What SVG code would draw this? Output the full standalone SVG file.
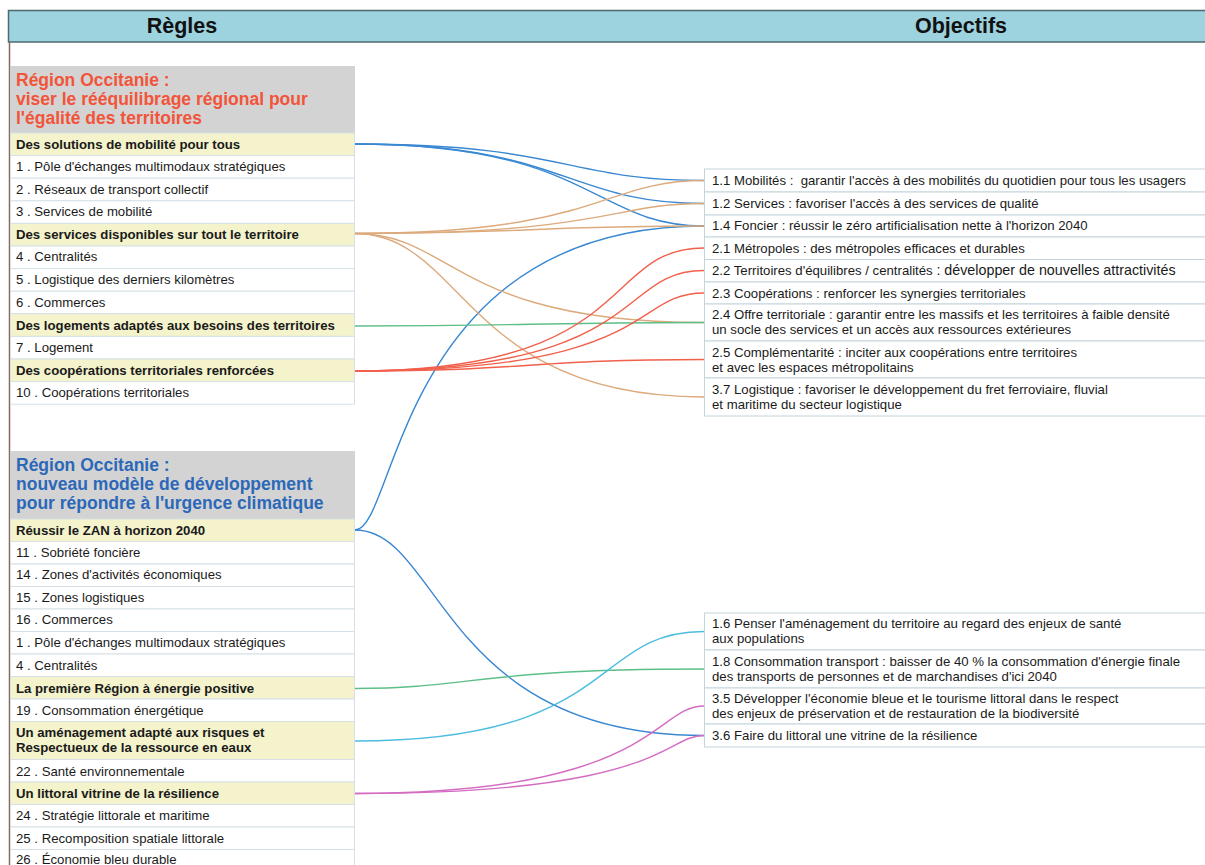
<svg xmlns="http://www.w3.org/2000/svg" width="1205" height="865" viewBox="0 0 1205 865">
<style>
text{font-family:"Liberation Sans",Arial,sans-serif;fill:#1a1a1a}
.hd{font-size:21.5px;font-weight:bold;text-anchor:middle;fill:#111}
.t1{font-size:17.5px;font-weight:bold;fill:#f2543a}
.t2{font-size:17.5px;font-weight:bold;fill:#2c68b8}
.it{font-size:13.2px}
.b{font-size:13.2px;font-weight:bold}
.gray{fill:#d3d3d3}
.hi{fill:#f4f3cc;stroke:#d6e0e6;stroke-width:1}
.row{fill:#ffffff;stroke:#d6e0e6;stroke-width:1}
.rr{fill:#ffffff;stroke:#c3d4dc;stroke-width:1}
.c{fill:none;stroke-width:1.4}
.bl{stroke:#3a88d2}
.or{stroke:#dcaa7c}
.rd{stroke:#f1604b}
.gr{stroke:#5cbf88}
.cy{stroke:#4cbde0}
.mg{stroke:#d46cc2}
</style>
<rect width="1205" height="865" fill="#ffffff"/>
<g id="header">
<rect x="8.5" y="10.5" width="1200" height="31.5" fill="#9dd2df" stroke="#4d6a70" stroke-width="1.5"/>
<line x1="9.5" y1="42" x2="9.5" y2="865" stroke="#8a6a5a" stroke-width="1.5"/>
<text class="hd" x="182" y="33">Règles</text>
<text class="hd" x="961" y="33">Objectifs</text>
</g>
<g id="connectors">
<path class="c bl" d="M355,144 C566,144 566,180.5 704,180.5"/>
<path class="c bl" d="M355,144 C566,144 566,203.5 704,203.5"/>
<path class="c bl" d="M355,144 C593,144 593,226 704,226"/>
<path class="c bl" d="M355,530 C397,530 397,226 704,226"/>
<path class="c bl" d="M355,530 C441,530 441,735.5 704,735.5"/>
<path class="c or" d="M355,233.5 C601,233.5 601,180.5 704,180.5"/>
<path class="c or" d="M355,233.5 C610,233.5 610,203.5 704,203.5"/>
<path class="c or" d="M355,233.5 C530,233.5 530,226 704,226"/>
<path class="c or" d="M355,233.5 C454,233.5 454,322.5 704,322.5"/>
<path class="c or" d="M355,233.5 C464,233.5 464,397 704,397"/>
<path class="c gr" d="M355,326 C530,326 530,322.5 704,322.5"/>
<path class="c rd" d="M355,371 C640,371 600,248 704,248"/>
<path class="c rd" d="M355,371 C650,371 615,270.5 704,270.5"/>
<path class="c rd" d="M355,371 C660,371 630,293 704,293"/>
<path class="c rd" d="M355,371 C530,371 530,359.5 704,359.5"/>
<path class="c gr" d="M355,688.5 C473,688.5 473,669 704,669"/>
<path class="c cy" d="M355,741 C620,741 590,631.5 704,631.5"/>
<path class="c mg" d="M355,793.5 C654,793.5 654,706 704,706"/>
<path class="c mg" d="M355,793.5 C664,793.5 664,735.5 704,735.5"/>
</g>
<g id="region1">
<rect class="gray" x="10" y="66" width="345" height="67"/>
<text class="t1" x="16" y="86">Région Occitanie :</text>
<text class="t1" x="16" y="105">viser le rééquilibrage régional pour</text>
<text class="t1" x="16" y="124">l'égalité des territoires</text>
</g>
<g id="r1-mobilite"><rect class="hi" x="10.5" y="133" width="344" height="22.6"/><text class="b" x="16" y="148.5">Des solutions de mobilité pour tous</text></g>
<g id="r1-1"><rect class="row" x="10.5" y="155.6" width="344" height="22.6"/><text class="it" x="16" y="171">1 . Pôle d'échanges multimodaux stratégiques</text></g>
<g id="r1-2"><rect class="row" x="10.5" y="178.2" width="344" height="22.6"/><text class="it" x="16" y="193.5">2 . Réseaux de transport collectif</text></g>
<g id="r1-3"><rect class="row" x="10.5" y="200.8" width="344" height="22.6"/><text class="it" x="16" y="216">3 . Services de mobilité</text></g>
<g id="r1-services"><rect class="hi" x="10.5" y="223.4" width="344" height="22.6"/><text class="b" x="16" y="238.5">Des services disponibles sur tout le territoire</text></g>
<g id="r1-4"><rect class="row" x="10.5" y="246" width="344" height="22.6"/><text class="it" x="16" y="261">4 . Centralités</text></g>
<g id="r1-5"><rect class="row" x="10.5" y="268.6" width="344" height="22.6"/><text class="it" x="16" y="284">5 . Logistique des derniers kilomètres</text></g>
<g id="r1-6"><rect class="row" x="10.5" y="291.2" width="344" height="22.6"/><text class="it" x="16" y="307">6 . Commerces</text></g>
<g id="r1-logements"><rect class="hi" x="10.5" y="313.8" width="344" height="22.6"/><text class="b" x="16" y="329.5">Des logements adaptés aux besoins des territoires</text></g>
<g id="r1-7"><rect class="row" x="10.5" y="336.4" width="344" height="22.6"/><text class="it" x="16" y="352">7 . Logement</text></g>
<g id="r1-coop"><rect class="hi" x="10.5" y="359" width="344" height="22.6"/><text class="b" x="16" y="374.5">Des coopérations territoriales renforcées</text></g>
<g id="r1-10"><rect class="row" x="10.5" y="381.6" width="344" height="22.6"/><text class="it" x="16" y="397">10 . Coopérations territoriales</text></g>
<g id="region2">
<rect class="gray" x="10" y="451" width="345" height="68"/>
<text class="t2" x="16" y="471">Région Occitanie :</text>
<text class="t2" x="16" y="490">nouveau modèle de développement</text>
<text class="t2" x="16" y="509">pour répondre à l'urgence climatique</text>
</g>
<g id="r2-zan"><rect class="hi" x="10.5" y="519" width="344" height="22.5"/><text class="b" x="16" y="534.5">Réussir le ZAN à horizon 2040</text></g>
<g id="r2-11"><rect class="row" x="10.5" y="541.5" width="344" height="22.5"/><text class="it" x="16" y="557">11 . Sobriété foncière</text></g>
<g id="r2-14"><rect class="row" x="10.5" y="564" width="344" height="22.5"/><text class="it" x="16" y="579">14 . Zones d'activités économiques</text></g>
<g id="r2-15"><rect class="row" x="10.5" y="586.5" width="344" height="22.5"/><text class="it" x="16" y="602">15 . Zones logistiques</text></g>
<g id="r2-16"><rect class="row" x="10.5" y="609" width="344" height="22.5"/><text class="it" x="16" y="624">16 . Commerces</text></g>
<g id="r2-1"><rect class="row" x="10.5" y="631.5" width="344" height="22.5"/><text class="it" x="16" y="647">1 . Pôle d'échanges multimodaux stratégiques</text></g>
<g id="r2-4"><rect class="row" x="10.5" y="654" width="344" height="22.5"/><text class="it" x="16" y="670">4 . Centralités</text></g>
<g id="r2-energie"><rect class="hi" x="10.5" y="676.5" width="344" height="22.5"/><text class="b" x="16" y="692.5">La première Région à énergie positive</text></g>
<g id="r2-19"><rect class="row" x="10.5" y="699" width="344" height="22.5"/><text class="it" x="16" y="715">19 . Consommation énergétique</text></g>
<g id="r2-amenagement"><rect class="hi" x="10.5" y="721.5" width="344" height="38"/><text class="b" x="16" y="737">Un aménagement adapté aux risques et</text><text class="b" x="16" y="752">Respectueux de la ressource en eaux</text></g>
<g id="r2-22"><rect class="row" x="10.5" y="759.5" width="344" height="22.5"/><text class="it" x="16" y="775.5">22 . Santé environnementale</text></g>
<g id="r2-littoral"><rect class="hi" x="10.5" y="782" width="344" height="22.5"/><text class="b" x="16" y="797.5">Un littoral vitrine de la résilience</text></g>
<g id="r2-24"><rect class="row" x="10.5" y="804.5" width="344" height="22.5"/><text class="it" x="16" y="820">24 . Stratégie littorale et maritime</text></g>
<g id="r2-25"><rect class="row" x="10.5" y="827" width="344" height="22.5"/><text class="it" x="16" y="842.5">25 . Recomposition spatiale littorale</text></g>
<g id="r2-26"><rect class="row" x="10.5" y="849.5" width="344" height="22.5"/><text class="it" x="16" y="863.5">26 . Économie bleu durable</text></g>
<g id="o-1-1"><rect class="rr" x="704.5" y="169" width="510" height="23"/><text class="it" x="712" y="185" xml:space="preserve">1.1 Mobilités :  garantir l'accès à des mobilités du quotidien pour tous les usagers</text></g>
<g id="o-1-2"><rect class="rr" x="704.5" y="192" width="510" height="23"/><text class="it" x="712" y="207.5">1.2 Services : favoriser l'accès à des services de qualité</text></g>
<g id="o-1-4"><rect class="rr" x="704.5" y="215" width="510" height="22"/><text class="it" x="712" y="230">1.4 Foncier : réussir le zéro artificialisation nette à l'horizon 2040</text></g>
<g id="o-2-1"><rect class="rr" x="704.5" y="237" width="510" height="22.5"/><text class="it" x="712" y="252.5">2.1 Métropoles : des métropoles efficaces et durables</text></g>
<g id="o-2-2"><rect class="rr" x="704.5" y="259.5" width="510" height="22.5"/><text class="it" x="712" y="275">2.2 Territoires d'équilibres / centralités <tspan font-size="14.3">: développer de nouvelles attractivités</tspan></text></g>
<g id="o-2-3"><rect class="rr" x="704.5" y="282" width="510" height="22"/><text class="it" x="712" y="297.5">2.3 Coopérations : renforcer les synergies territoriales</text></g>
<g id="o-2-4"><rect class="rr" x="704.5" y="304" width="510" height="37"/><text class="it" x="712" y="319">2.4 Offre territoriale : garantir entre les massifs et les territoires à faible densité</text><text class="it" x="712" y="334">un socle des services et un accès aux ressources extérieures</text></g>
<g id="o-2-5"><rect class="rr" x="704.5" y="341" width="510" height="37"/><text class="it" x="712" y="356.5">2.5 Complémentarité : inciter aux coopérations entre territoires</text><text class="it" x="712" y="371.5">et avec les espaces métropolitains</text></g>
<g id="o-3-7"><rect class="rr" x="704.5" y="378" width="510" height="38"/><text class="it" x="712" y="394">3.7 Logistique : favoriser le développement du fret ferroviaire, fluvial</text><text class="it" x="712" y="409">et maritime du secteur logistique</text></g>
<g id="o-1-6"><rect class="rr" x="704.5" y="613" width="510" height="37"/><text class="it" x="712" y="628">1.6 Penser l'aménagement du territoire au regard des enjeux de santé</text><text class="it" x="712" y="642.5">aux populations</text></g>
<g id="o-1-8"><rect class="rr" x="704.5" y="650" width="510" height="38"/><text class="it" x="712" y="665.5">1.8 Consommation transport : baisser de 40 % la consommation d'énergie finale</text><text class="it" x="712" y="680.5">des transports de personnes et de marchandises d'ici 2040</text></g>
<g id="o-3-5"><rect class="rr" x="704.5" y="688" width="510" height="36"/><text class="it" x="712" y="703">3.5 Développer l'économie bleue et le tourisme littoral dans le respect</text><text class="it" x="712" y="718">des enjeux de préservation et de restauration de la biodiversité</text></g>
<g id="o-3-6"><rect class="rr" x="704.5" y="724" width="510" height="23"/><text class="it" x="712" y="740">3.6 Faire du littoral une vitrine de la résilience</text></g>
</svg>
